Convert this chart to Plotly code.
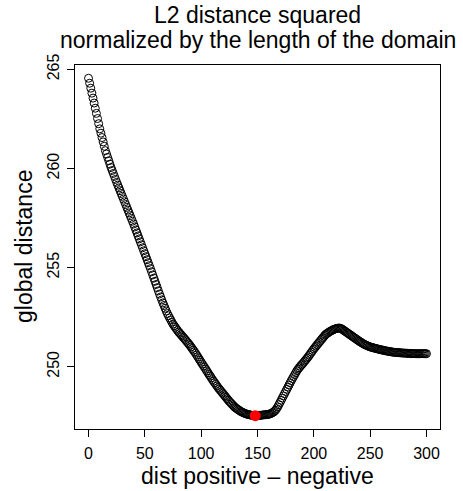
import plotly.graph_objects as go

# shift between positive and negative (one step per unit)
dist = list(range(0, 301))

# global distance (L2 distance squared, normalized by domain length)
global_distance = [
    264.55,
    264.30, 264.05, 263.80, 263.55, 263.30,
    263.04, 262.78, 262.52, 262.26, 262.00,
    261.78, 261.56, 261.34, 261.12, 260.90,
    260.73, 260.56, 260.39, 260.22, 260.05,
    259.90, 259.75, 259.60, 259.45, 259.30,
    259.16, 259.02, 258.88, 258.74, 258.60,
    258.46, 258.32, 258.18, 258.04, 257.90,
    257.76, 257.62, 257.48, 257.34, 257.20,
    257.05, 256.90, 256.75, 256.60, 256.45,
    256.30, 256.15, 256.00, 255.85, 255.70,
    255.55, 255.40, 255.25, 255.10, 254.95,
    254.79, 254.63, 254.47, 254.31, 254.15,
    253.99, 253.83, 253.67, 253.52, 253.37,
    253.22, 253.09, 252.95, 252.81, 252.68,
    252.57, 252.46, 252.36, 252.25, 252.15,
    252.07, 251.99, 251.91, 251.83, 251.75,
    251.69, 251.62, 251.56, 251.49, 251.43,
    251.36, 251.29, 251.22, 251.15, 251.08,
    251.00, 250.92, 250.84, 250.76, 250.68,
    250.59, 250.50, 250.41, 250.32, 250.23,
    250.14, 250.05, 249.97, 249.88, 249.79,
    249.70, 249.61, 249.53, 249.44, 249.35,
    249.27, 249.19, 249.11, 249.03, 248.95,
    248.88, 248.81, 248.74, 248.67, 248.60,
    248.53, 248.46, 248.39, 248.32, 248.25,
    248.19, 248.13, 248.07, 248.01, 247.95,
    247.91, 247.87, 247.83, 247.79, 247.75,
    247.72, 247.69, 247.67, 247.64, 247.62,
    247.60, 247.59, 247.58, 247.56, 247.55,
    247.545, 247.535, 247.530, 247.534, 247.538,
    247.542, 247.547, 247.553, 247.560, 247.570,
    247.576, 247.582, 247.588, 247.594, 247.600,
    247.620, 247.645, 247.675, 247.710, 247.750,
    247.81, 247.89, 247.98, 248.09, 248.20,
    248.31, 248.42, 248.53, 248.64, 248.75,
    248.86, 248.97, 249.08, 249.19, 249.30,
    249.40, 249.50, 249.60, 249.70, 249.80,
    249.88, 249.95, 250.02, 250.09, 250.15,
    250.22, 250.29, 250.36, 250.43, 250.50,
    250.58, 250.66, 250.74, 250.82, 250.90,
    250.97, 251.04, 251.11, 251.18, 251.25,
    251.32, 251.39, 251.46, 251.53, 251.60,
    251.65, 251.69, 251.73, 251.77, 251.80,
    251.83, 251.86, 251.89, 251.91, 251.93,
    251.94, 251.95, 251.95, 251.93, 251.90,
    251.86, 251.82, 251.78, 251.74, 251.70,
    251.66, 251.62, 251.58, 251.54, 251.50,
    251.46, 251.42, 251.38, 251.34, 251.30,
    251.26, 251.23, 251.19, 251.16, 251.12,
    251.10, 251.07, 251.05, 251.02, 251.00,
    250.98, 250.97, 250.95, 250.94, 250.92,
    250.91, 250.89, 250.88, 250.86, 250.85,
    250.84, 250.83, 250.81, 250.80, 250.79,
    250.78, 250.77, 250.76, 250.75, 250.74,
    250.73, 250.73, 250.72, 250.72, 250.71,
    250.71, 250.70, 250.70, 250.69, 250.69,
    250.69, 250.68, 250.68, 250.67, 250.67,
    250.67, 250.66, 250.66, 250.66, 250.66,
    250.66, 250.66, 250.66, 250.66, 250.66,
    250.66, 250.66, 250.66, 250.66, 250.66,
]

x_ticks = [0, 50, 100, 150, 200, 250, 300]
y_ticks = [250, 255, 260, 265]

title_lines = ["L2 distance squared", "normalized by the length of the domain"]
x_label = "dist positive \u2013 negative"
y_label = "global distance"

# the minimum is highlighted in red
best_i = min(range(len(global_distance)), key=lambda i: global_distance[i])

FONT = "Liberation Sans, Arial, Helvetica, sans-serif"

fig = go.Figure()
fig.add_trace(go.Scatter(
    x=dist, y=global_distance, mode="markers",
    marker=dict(symbol="circle-open", size=8, color="black", line=dict(width=1)),
    showlegend=False, hoverinfo="x+y",
))
fig.add_trace(go.Scatter(
    x=[dist[best_i]], y=[global_distance[best_i]], mode="markers",
    marker=dict(symbol="circle", size=11, color="red"),
    showlegend=False,
))

axis_common = dict(
    showgrid=False, zeroline=False, showline=True, mirror=True,
    linecolor="black", linewidth=1, ticks="outside", ticklen=7,
    tickcolor="black", tickwidth=1,
    tickfont=dict(family=FONT, size=16, color="black"),
)

fig.update_xaxes(range=[-12, 312], tickvals=x_ticks, ticklabelstandoff=3, **axis_common)
fig.update_yaxes(range=[246.86, 265.22], tickvals=y_ticks, tickangle=-90,
                 ticklabelstandoff=2, **axis_common)

annotations = [
    dict(text=title_lines[0], x=0.5, y=1, xref="paper", yref="paper",
         xanchor="center", yanchor="middle", yshift=50, showarrow=False,
         font=dict(family=FONT, size=23, color="black")),
    dict(text=title_lines[1], x=0.5, y=1, xref="paper", yref="paper",
         xanchor="center", yanchor="middle", yshift=25, showarrow=False,
         font=dict(family=FONT, size=23, color="black")),
    dict(text=x_label, x=0.5, y=0, xref="paper", yref="paper",
         xanchor="center", yanchor="middle", yshift=-47, showarrow=False,
         font=dict(family=FONT, size=23, color="black")),
    dict(text=y_label, x=0, y=0.5, xref="paper", yref="paper",
         xanchor="center", yanchor="middle", xshift=-51, textangle=-90,
         showarrow=False, font=dict(family=FONT, size=23, color="black")),
]

fig.update_layout(
    width=463, height=491,
    margin=dict(l=75, r=23, t=65, b=62),
    paper_bgcolor="white", plot_bgcolor="white",
    annotations=annotations,
)

fig.write_html("out.html")
